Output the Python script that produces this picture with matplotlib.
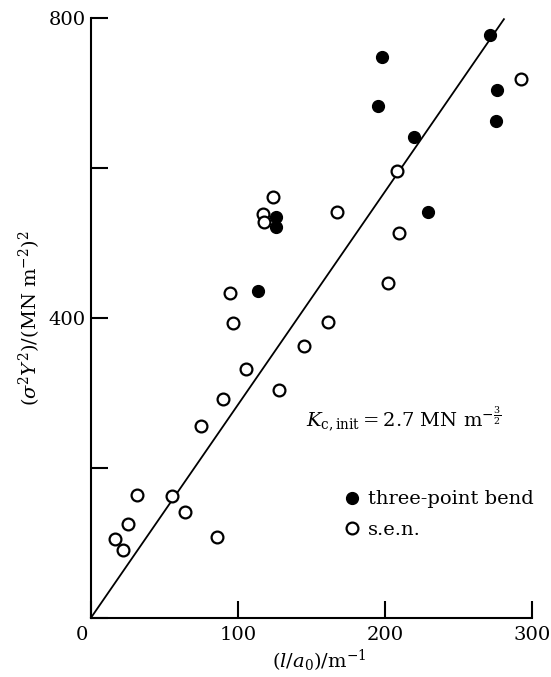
import matplotlib
matplotlib.use('Agg')
import matplotlib.pyplot as plt
from matplotlib.lines import Line2D

plt.rcParams['font.family'] = ['DejaVu Serif']
plt.rcParams['mathtext.fontset'] = 'dejavuserif'

# three-point bend (filled)
bend_x = [271.6, 197.8, 195.1, 276.1, 275.6, 220.0, 229.1, 113.4, 125.9, 125.9]
bend_y = [776.9, 748.0, 682.0, 703.6, 662.0, 641.0, 541.0, 435.6, 534.7, 521.3]

# s.e.n. (open)
sen_x = [292.7, 208.3, 167.2, 209.6, 201.9, 161.5, 144.9, 123.6, 117.3, 117.7,
         94.6, 96.9, 105.5, 128.0, 89.6, 74.9, 31.5, 55.1, 64.2, 25.2,
         16.1, 21.8, 85.8]
sen_y = [718.0, 596.0, 541.4, 512.5, 446.7, 394.7, 362.0, 561.3, 537.9, 527.0,
         432.5, 393.3, 331.6, 304.0, 291.6, 256.0, 163.6, 162.7, 141.3, 124.5,
         104.5, 90.3, 108.0]

# fitted line, K_c,init = 2.7
fit_x = [0, 281]
fit_y = [0, 798]

x_ticks = [0, 100, 200, 300]
x_labels = ['', '100', '200', '300']
y_ticks = [0, 200, 400, 600, 800]
y_labels = ['', '', '400', '', '800']

fig = plt.figure(figsize=(5.51, 6.77), dpi=100)
ax = fig.add_axes([0.1652, 0.0876, 0.8267, 0.8863])

ax.plot(fit_x, fit_y, color='black', lw=1.3, clip_on=False)
ax.plot(sen_x, sen_y, 'o', ms=8.5, mfc='white', mec='black', mew=1.6, clip_on=False)
ax.plot(bend_x, bend_y, 'o', ms=8.5, mfc='black', mec='black', mew=1.0, clip_on=False)

ax.set_xlim(0, 310)
ax.set_ylim(0, 800)
ax.spines['top'].set_visible(False)
ax.spines['right'].set_visible(False)
ax.spines['left'].set_bounds(0, 800)
ax.spines['bottom'].set_bounds(0, 300)
ax.spines['left'].set_linewidth(1.5)
ax.spines['bottom'].set_linewidth(1.5)

ax.set_xticks(x_ticks)
ax.set_xticklabels(x_labels)
ax.set_yticks(y_ticks)
ax.set_yticklabels(y_labels)
ax.tick_params(direction='in', length=12, width=1.5, labelsize=14, pad=6)
ax.tick_params(axis='y', pad=4)
ax.text(-0.02, -0.014, '0', transform=ax.transAxes, ha='center', va='top', fontsize=14)

ax.set_xlabel(r'$(l/a_0)/\mathrm{m^{-1}}$', fontsize=14, labelpad=3)
ax.set_ylabel(r'$(\sigma^2 Y^2)/(\mathrm{MN\ m^{-2}})^2$', fontsize=14, labelpad=4)

ax.text(0.473, 0.332, r'$K_{\mathrm{c,init}}=2.7\ \mathrm{MN\ m^{-\frac{3}{2}}}$',
        transform=ax.transAxes, fontsize=14, va='center')

handles = [Line2D([], [], ls='', marker='o', ms=8.5, mfc='black', mec='black'),
           Line2D([], [], ls='', marker='o', ms=8.5, mfc='white', mec='black', mew=1.6)]
ax.legend(handles, ['three-point bend', 's.e.n.'], loc='upper left',
          bbox_to_anchor=(0.556, 0.212), frameon=False, fontsize=14,
          handlelength=0.8, handletextpad=0.4, labelspacing=0.65,
          borderpad=0, borderaxespad=0)

fig.savefig('out.png', dpi=100)
